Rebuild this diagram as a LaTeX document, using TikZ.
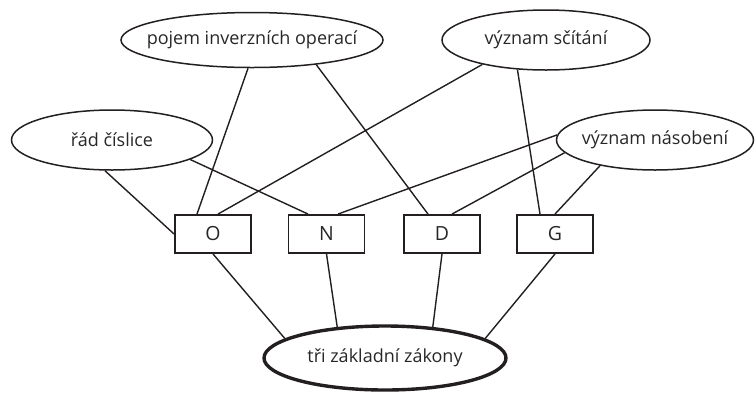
\documentclass[tikz,border=0pt]{standalone}
\usepackage{fontspec}
\setmainfont{Open Sans}
\usetikzlibrary{shapes.geometric}
\definecolor{ink}{RGB}{35,31,32}
\definecolor{txt}{RGB}{40,38,38}
\begin{document}
\begin{tikzpicture}[x=1pt,y=-1pt,
  concept/.style={ellipse,draw=ink,line width=1.5pt,inner sep=0pt,
    label={[font=\fontsize{18}{21}\selectfont,text=txt,inner sep=0pt]center:#1}},
  letterbox/.style={rectangle,draw=ink,line width=1.9pt,minimum width=76pt,
    minimum height=38pt,inner sep=0pt,font=\fontsize{19.5}{22}\selectfont,text=txt},
  link/.style={draw=ink,line width=1.4pt}]
\useasboundingbox (0,0) rectangle (755,392);

% concepts: empty ellipses of fixed size, text set as a centred label
\node[concept={pojem inverzních operací},minimum width=262pt,minimum height=55pt] (pojem) at (252,40) {};
\node[concept={význam sčítání},minimum width=208pt,minimum height=60pt] (scitani) at (546,40) {};
\node[concept={řád číslice},minimum width=201pt,minimum height=60pt] (rad) at (112,140) {};
\node[concept={význam násobení},minimum width=197pt,minimum height=60pt] (nasobeni) at (655,140) {};
\node[concept={tři základní zákony},line width=3.4pt,minimum width=242pt,minimum height=64pt] (zakony) at (385,358) {};

% letter boxes
\node[letterbox] (O) at (213,234) {O};
\node[letterbox] (N) at (326.5,234) {N};
\node[letterbox] (D) at (442,234) {D};
\node[letterbox] (G) at (555,234) {G};

% upper connectors
\draw[link] (pojem.-98) -- ([xshift=-16pt]O.north);
\draw[link] (pojem.-21) -- ([xshift=-14pt]D.north);
\draw[link] (scitani.-159) -- ([xshift=5pt]O.north);
\draw[link] (scitani.-134) -- ([xshift=-15pt]G.north);
\draw[link] (rad.-103) -- (O.west);
\draw[link] (rad.-14) -- ([xshift=-18.5pt]N.north);
\draw[link] (nasobeni.177) -- ([xshift=11.5pt]N.north);
\draw[link] (nasobeni.-172) -- ([xshift=10pt]D.north);
\draw[link] (nasobeni.-155) -- (G.north);

% lower connectors
\draw[link] (O.south) -- (zakony.169);
\draw[link] (N.south) -- (zakony.147);
\draw[link] (D.south) -- (zakony.33);
\draw[link] (G.south) -- (zakony.11);
\end{tikzpicture}
\end{document}
